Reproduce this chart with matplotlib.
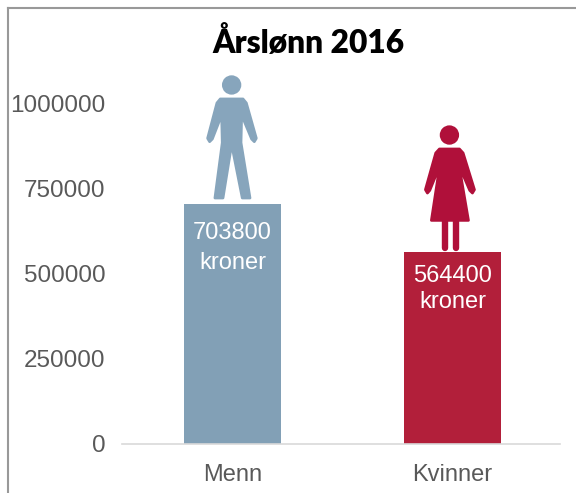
import matplotlib
matplotlib.use('Agg')
import matplotlib.pyplot as plt
from matplotlib.lines import Line2D
from matplotlib.patches import Circle, Polygon
from matplotlib.transforms import Affine2D

categories = ['Menn', 'Kvinner']
salaries = [703800, 564400]
bar_text = ['703800', '564400']
unit_text = ['kroner', 'kroner']
yticks = [0, 250000, 500000, 750000, 1000000]

W, H = 576, 493
TICK_COLOR = '#595959'
BAR_COLORS = ['#82A0B6', '#B21F3A']
ICON_COLORS = ['#87A5BC', '#B0103A']

plt.rcParams['font.family'] = ['Liberation Sans', 'DejaVu Sans']

fig = plt.figure(figsize=(W / 100, H / 100), dpi=100)

# Axes placed in pixels, y measured from the top of the image.
left, right, base, top = 122, 560, 443.5, 70
ax = fig.add_axes([left / W, 1 - base / H, (right - left) / W, (base - top) / H])
ax.set_xlim(-0.502, 1.489)
ax.set_ylim(0, 1099000)

bars = ax.bar(categories, salaries, width=0.44, color=BAR_COLORS)

for s in ['top', 'left', 'right']:
    ax.spines[s].set_visible(False)
ax.spines['bottom'].set_color('#D9D9D9')
ax.spines['bottom'].set_linewidth(1.2)

ax.set_yticks(yticks)
ax.set_yticklabels([str(v) for v in yticks])
ax.tick_params(axis='y', length=0, pad=12, labelsize=17.5, labelcolor=TICK_COLOR)
ax.tick_params(axis='x', length=0, pad=15, labelsize=17, labelcolor=TICK_COLOR)

# value text inside the bars, offset below the bar top in pixels
line_offsets = [(29, 59), (24, 50)]
for i, v in enumerate(salaries):
    off1, off2 = line_offsets[i]
    ax.annotate(bar_text[i], (i, v), xytext=(0, -off1 * 0.72), textcoords='offset points',
                ha='center', va='center', color='white', fontsize=17)
    ax.annotate(unit_text[i], (i, v), xytext=(0, -off2 * 0.72), textcoords='offset points',
                ha='center', va='center', color='white', fontsize=17)

fig.text(308 / W, 1 - 42 / H, 'Årslønn 2016', ha='center', va='center',
         fontsize=22.9, fontweight='heavy', color='black', family=['Lato', 'DejaVu Sans'])

# Outer frame of the screenshot, open on the right and at the bottom.
frame = dict(color='#999999', lw=1.5, transform=fig.transFigure)
fig.add_artist(Line2D([8 / W, 8 / W], [0, 1 - 8 / H], **frame))
fig.add_artist(Line2D([8 / W, 1], [1 - 8 / H, 1 - 8 / H], **frame))

# Pictograms: shape units are the 3x zoom pixels, negative y goes up from the bar top.
icon_tf = Affine2D().scale(1 / 3, 1 / 3)


def place(dx_px, bar_top_px):
    return (icon_tf + Affine2D().translate(dx_px, bar_top_px)
            + Affine2D().scale(1 / W, -1 / H).translate(0, 1) + fig.transFigure)


def body(tf, color, pts):
    # the wide round edge gives the soft corners of the icon
    fig.add_artist(Polygon(pts, closed=True, facecolor=color, edgecolor=color, lw=2,
                           joinstyle='round', transform=tf))


def limb(tf, color, p0, p1, width):
    fig.add_artist(Line2D([p0[0], p1[0]], [p0[1], p1[1]], color=color, lw=width,
                          solid_capstyle='round', transform=tf))


def draw_man(cx, ytop, color):
    tf = place(cx, ytop)
    fig.add_artist(Circle((0, -358), 29, color=color, lw=0, transform=tf))
    body(tf, color, [(-34, -316), (34, -316), (44, -304), (74, -198), (68, -188), (60, -196),
                     (30, -268), (28, -185), (55, -19), (32, -19), (0, -180), (-26, -19),
                     (-50, -19), (-28, -185), (-30, -268), (-58, -196), (-66, -188),
                     (-72, -198), (-44, -304)])


def draw_woman(cx, ytop, color):
    tf = place(cx, ytop)
    fig.add_artist(Circle((0, -350), 29, color=color, lw=0, transform=tf))
    body(tf, color, [(-30, -308), (30, -308), (41, -296), (75, -186), (69, -176), (61, -184),
                     (29, -258), (57, -94), (-54, -94), (-29, -258), (-59, -184), (-66, -176),
                     (-72, -186), (-41, -296)])
    limb(tf, color, (-12, -95), (-12, -12), 4.6)
    limb(tf, color, (19, -95), (19, -12), 4.6)


def bar_top_pixels(b):
    x, y = ax.transData.transform((b.get_x() + b.get_width() / 2, b.get_height()))
    return x, H - y


mx, my = bar_top_pixels(bars[0])
wx, wy = bar_top_pixels(bars[1])
draw_man(mx - 0.8, my, ICON_COLORS[0])
draw_woman(wx - 3, wy, ICON_COLORS[1])

fig.savefig('out.png', dpi=100)
